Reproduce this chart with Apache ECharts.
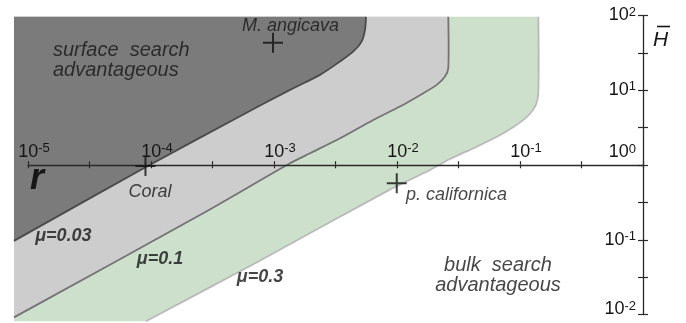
<!DOCTYPE html>
<html><head><meta charset="utf-8">
<script src="https://cdn.jsdelivr.net/npm/echarts@6/dist/echarts.min.js"></script>
<style>html,body{margin:0;padding:0;background:#fff}#c{width:686px;height:323px}</style>
</head><body><div id="c"></div>
<script>
// All values in log10 units: x = log10(r), y = log10(H̄)
const xTickExponents = [-5, -4, -3, -2, -1];
const yTickExponents = [-2, -1, 0, 1, 2];

// shaded-area frame (log10 units)
const frameLeft = -5.114, frameTop = 1.982, frameBottom = -2.09;

// region boundaries, listed from the lower-left end to the top end
const boundaryMu003 = [[-5.114,-1.015],[-4.041,-0.027],[-3.333,0.603],[-2.870,1.005],[-2.626,1.206],[-2.463,1.385],[-2.355,1.519],[-2.287,1.653],[-2.260,1.810],[-2.252,1.982]];
const boundaryMu01 = [[-5.114,-2.038],[-3.602,-0.670],[-2.870,0.023],[-2.707,0.157],[-2.463,0.358],[-2.193,0.603],[-1.976,0.782],[-1.786,0.961],[-1.677,1.072],[-1.610,1.184],[-1.583,1.296],[-1.583,1.982]];
const boundaryMu03 = [[-4.041,-2.090],[-3.138,-1.300],[-2.081,-0.349],[-1.732,-0.067],[-1.569,0.080],[-1.352,0.245],[-1.136,0.425],[-0.973,0.603],[-0.878,0.782],[-0.851,0.983],[-0.851,1.982]];

// species marked with crosses
const speciesNames = ['M. angicava', 'Coral', 'p. californica'];
const speciesLogR = [-3.008, -4.045, -2.002];
const speciesLogH = [1.635, -0.013, -0.245];

// annotation texts and their anchors
const noteTexts = ['surface  search\nadvantageous', 'bulk  search\nadvantageous', 'μ=0.03', 'μ=0.1', 'μ=0.3', 'M. angicava', 'Coral', 'p. californica'];
const noteLogR = [-4.797, -1.179, -4.712, -3.927, -3.114, -3.260, -4.008, -1.927];
const noteLogH = [1.397, -1.481, -0.944, -1.256, -1.501, 1.863, -0.362, -0.408];
const noteKinds = ['regionL', 'regionC', 'mu', 'mu', 'mu', 'spL', 'spC', 'spL'];

const FONT = '"Liberation Sans", Arial, sans-serif';
const INK = '#161616';
const AX = '#2a2a2a';

const noteStyles = {
  regionL: {fontSize: 20, fontStyle: 'italic', lineHeight: 20, align: 'left'},
  regionC: {fontSize: 20, fontStyle: 'italic', lineHeight: 20, align: 'center'},
  mu: {fontSize: 18, fontStyle: 'italic', fontWeight: 'bold', align: 'center'},
  spL: {fontSize: 18, fontStyle: 'italic', align: 'left'},
  spC: {fontSize: 18, fontStyle: 'italic', align: 'center'}
};

const chart = echarts.init(document.getElementById('c'), null, {renderer: 'canvas'});

function regionSeries(name, boundary, corner, fill, stroke) {
  return {
    type: 'custom', name, data: boundary, clip: false, silent: true, z: 1,
    xAxisIndex: 0, yAxisIndex: 0,
    encode: {x: 0, y: 1},
    renderItem(params, api) {
      if (params.dataIndex !== 0) return null;
      const poly = corner.concat(boundary).map(p => api.coord(p));
      const line = boundary.map(p => api.coord(p));
      return {type: 'group', children: [
        {type: 'polygon', shape: {points: poly}, style: {fill: fill, stroke: null}},
        {type: 'polyline', shape: {points: line, smooth: 0.25}, style: {stroke: stroke, lineWidth: 1.8, fill: null, lineJoin: 'round'}}
      ]};
    }
  };
}

const supRich = {
  b: {fontSize: 18, lineHeight: 20, color: INK, fontFamily: FONT},
  s: {fontSize: 13, lineHeight: 9, verticalAlign: 'top', color: INK, fontFamily: FONT},
  g25: {fontSize: 1, lineHeight: 25},
  g10: {fontSize: 1, lineHeight: 10}
};

function isInt(v) { return Math.abs(v - Math.round(v)) < 1e-6; }

const GRID = {left: 28, right: 43, top: 15.5, bottom: 8.5};

const option = {
  animation: false,
  backgroundColor: '#ffffff',
  textStyle: {fontFamily: FONT},
  grid: [
    Object.assign({containLabel: false, outerBoundsMode: 'none'}, GRID),
    {left: 28, right: 43, top: 15.5, height: 149.25, containLabel: false, outerBoundsMode: 'none'}
  ],
  xAxis: [{
    gridIndex: 0, type: 'value', min: -5, max: 0, interval: 0.5, show: false
  }, {
    gridIndex: 1, type: 'value', min: -5, max: 0, interval: 0.5, position: 'bottom', z: 10,
    axisLine: {onZero: false, lineStyle: {color: AX, width: 1.3}},
    axisTick: {show: true, length: 3.5, lineStyle: {color: AX, width: 1.2}},
    splitLine: {show: false},
    axisLabel: {
      inside: true, margin: 3, showMinLabel: true, showMaxLabel: true,
      padding: [0, 0, 0, 12], rich: supRich,
      formatter: v => (isInt(v) && xTickExponents.includes(Math.round(v))) ? '{b|10}{s|' + Math.round(v) + '}' : ''
    },
    name: 'r', nameLocation: 'start', nameGap: -2,
    nameTextStyle: {fontSize: 36, fontWeight: 'bold', fontStyle: 'italic', color: INK, align: 'left', verticalAlign: 'top', lineHeight: 28, fontFamily: FONT}
  }, {
    gridIndex: 1, type: 'value', min: -5, max: 0, interval: 0.5, position: 'bottom', z: 10,
    axisLine: {show: false, onZero: false},
    axisTick: {show: true, inside: true, length: 3.5, lineStyle: {color: AX, width: 1.2}},
    splitLine: {show: false},
    axisLabel: {show: false}
  }],
  yAxis: [{
    gridIndex: 0, type: 'value', min: -2, max: 2, interval: 0.5, position: 'right', z: 10,
    axisLine: {show: true, onZero: false, lineStyle: {color: AX, width: 1.3}},
    axisTick: {show: true, length: 5, lineStyle: {color: AX, width: 1.2}},
    splitLine: {show: false},
    axisLabel: {
      inside: true, margin: 7, showMinLabel: true, showMaxLabel: true, align: 'right', rich: supRich,
      formatter: v => {
        if (!isInt(v)) return '';
        const n = Math.round(v);
        if (!yTickExponents.includes(n)) return '';
        if (n === 0) return '{b|10}{s|0}\n{g25| }';
        if (n === -2) return '{b|10}{s|-2}\n{g10| }';
        return '{b|10}{s|' + n + '}';
      }
    },
    name: '{sp| }{o| }\n{h|H}', nameLocation: 'end', nameGap: -21,
    nameTextStyle: {
      align: 'left', verticalAlign: 'middle', padding: [0, 0, 0, 10],
      rich: {
        sp: {width: 4, fontSize: 4, lineHeight: 8},
        o: {width: 13, height: 1.6, lineHeight: 8, backgroundColor: INK, fontSize: 4},
        h: {fontSize: 21, fontStyle: 'italic', color: INK, lineHeight: 20, fontFamily: FONT}
      }
    }
  }, {
    gridIndex: 0, type: 'value', min: -2, max: 2, interval: 0.5, position: 'right', z: 10,
    axisLine: {show: false, onZero: false},
    axisTick: {show: true, inside: true, length: 5, lineStyle: {color: AX, width: 1.2}},
    splitLine: {show: false},
    axisLabel: {show: false}
  }, {
    gridIndex: 1, type: 'value', min: 0, max: 2, show: false
  }],
  series: [
    regionSeries('μ=0.3', boundaryMu03, [[frameLeft, frameTop], [frameLeft, frameBottom]], '#cde0cc', '#b9b9b9'),
    regionSeries('μ=0.1', boundaryMu01, [[frameLeft, frameTop]], '#cdcdcd', '#737373'),
    regionSeries('μ=0.03', boundaryMu003, [[frameLeft, frameTop]], '#7b7b7b', '#4a4a4a'),
    {
      type: 'scatter', name: 'species', z: 12, silent: true, xAxisIndex: 0, yAxisIndex: 0,
      symbol: 'path://M9,0h2v9h9v2h-9v9h-2v-9h-9v-2h9z', symbolSize: 20,
      itemStyle: {color: '#111111'},
      data: speciesNames.map((n, i) => ({name: n, value: [speciesLogR[i], speciesLogH[i]]}))
    },
    {
      type: 'scatter', name: 'notes', z: 12, silent: true, symbolSize: 0, xAxisIndex: 0, yAxisIndex: 0,
      data: noteTexts.map((t, i) => ({
        name: t, value: [noteLogR[i], noteLogH[i]],
        label: Object.assign({show: true, position: 'inside', formatter: '{b}', color: INK, verticalAlign: 'middle', fontFamily: FONT}, noteStyles[noteKinds[i]])
      }))
    }
  ]
};
chart.setOption(option);
</script></body></html>
